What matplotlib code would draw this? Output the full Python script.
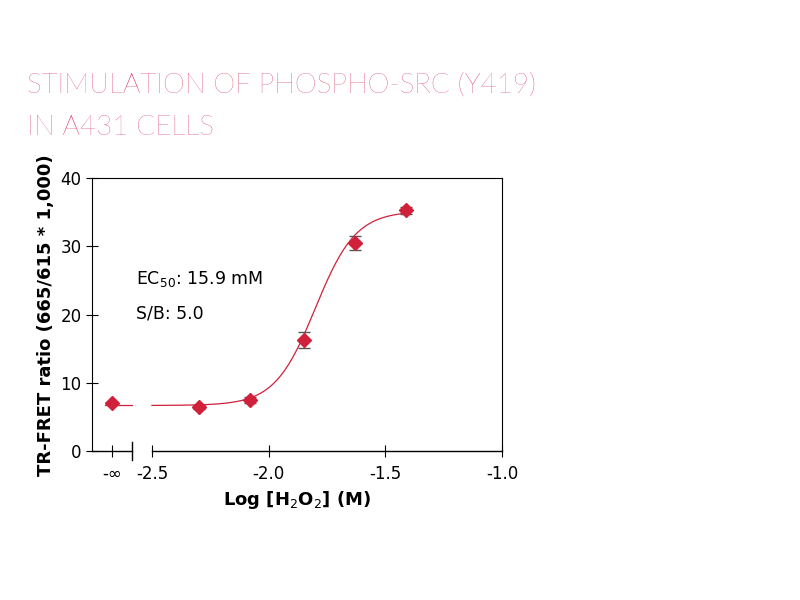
import numpy as np
import matplotlib.pyplot as plt

crimson = '#d0203a'
title_red = '#d01a4a'

log_conc = [-2.30, -2.08, -1.85, -1.63, -1.41]
ratio = [6.5, 7.5, 16.3, 30.5, 35.3]
ratio_err = [0.3, 0.4, 1.2, 1.0, 0.5]
zero_ratio = 7.0

# 4PL fit parameters
bottom, top, log_ec50, hill = 6.7, 35.2, -1.80, 5.0

x_inf = -2.671
x_break_lo, x_break_hi = -2.585, -2.5

fig = plt.figure(figsize=(8, 6), dpi=100)
fig.text(0.034, 0.845, 'STIMULATION OF PHOSPHO-SRC (Y419)', color=title_red,
         fontsize=20, family='Lato', fontweight='light')
fig.text(0.034, 0.775, 'IN A431 CELLS', color=title_red, fontsize=20,
         family='Lato', fontweight='light')

ax = fig.add_axes([0.115, 0.248, 0.5125, 0.455])
ax.set_xlim(-2.757, -1.0)
ax.set_ylim(0, 40)

def fit(x):
    return bottom + (top - bottom) / (1 + 10 ** ((log_ec50 - x) * hill))

xs = np.linspace(x_break_hi, -1.41, 300)
ax.plot(xs, fit(xs), color=crimson, lw=0.9)
ax.plot([x_inf - 0.03, x_break_lo], [fit(-3.0)] * 2, color=crimson, lw=0.9)

ax.errorbar(log_conc, ratio, yerr=ratio_err, fmt='D', color=crimson,
            ms=7, capsize=4, elinewidth=0.9, ecolor='#555555')
ax.plot([x_inf], [zero_ratio], 'D', color=crimson, ms=7)

# broken x axis
ax.spines['bottom'].set_visible(False)
ax.plot([-2.757, x_break_lo], [0, 0], color='black', lw=1, clip_on=False)
ax.plot([x_break_hi, -1.0], [0, 0], color='black', lw=1, clip_on=False)
ax.plot([x_break_lo, x_break_lo], [-1.3, 1.3], color='black', lw=1,
        clip_on=False)

ax.set_xticks([x_inf, -2.5, -2.0, -1.5, -1.0])
ax.set_xticklabels(['-∞', '-2.5', '-2.0', '-1.5', '-1.0'])
ax.set_yticks([0, 10, 20, 30, 40])
ax.tick_params(direction='inout', length=8, labelsize=12)
ax.tick_params(axis='x', pad=6)

ax.set_xlabel('Log [H$_2$O$_2$] (M)', fontsize=13, fontweight='bold')
ax.set_ylabel('TR-FRET ratio (665/615 * 1,000)', fontsize=13,
              fontweight='bold')

ax.text(-2.57, 24.5, 'EC$_{50}$: 15.9 mM', fontsize=12.5)
ax.text(-2.57, 19.5, 'S/B: 5.0', fontsize=12.5)

fig.savefig('out.png')
